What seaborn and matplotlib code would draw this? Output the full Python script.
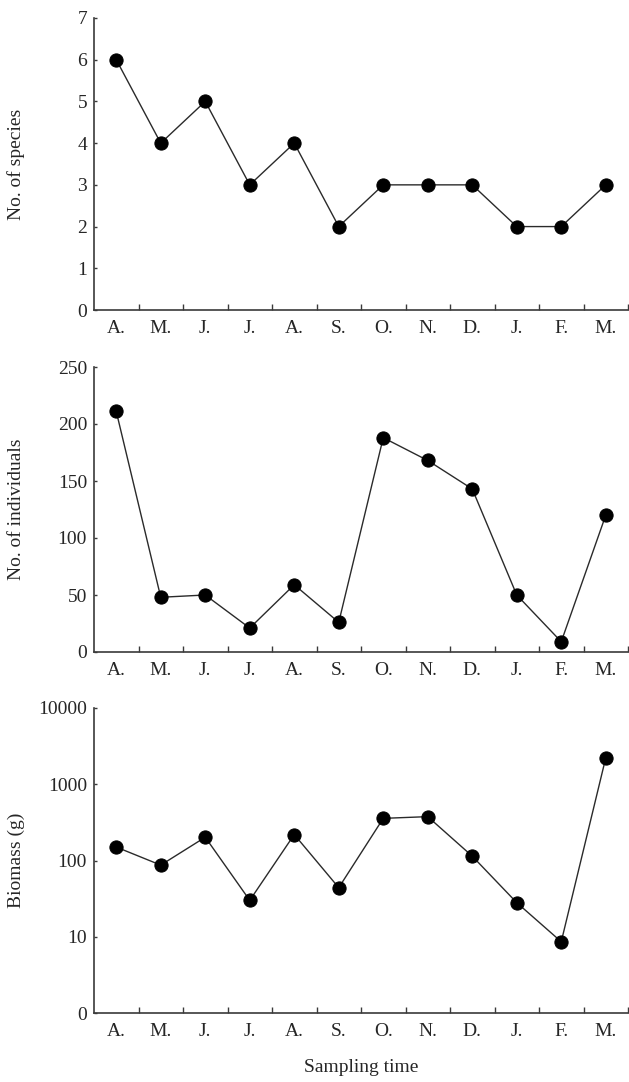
import matplotlib
matplotlib.use("Agg")
import matplotlib.pyplot as plt
import seaborn as sns
import numpy as np
from matplotlib.ticker import FixedLocator, NullFormatter

months = ["A.", "M.", "J.", "J.", "A.", "S.", "O.", "N.", "D.", "J.", "F.", "M."]
species = [6, 4, 5, 3, 4, 2, 3, 3, 3, 2, 2, 3]
individuals = [211, 48, 50, 21, 59, 26, 188, 168, 143, 50, 9, 120]
biomass = [150, 87, 202, 30, 219, 44, 357, 376, 114, 28, 8.6, 2218]

sns.set_theme(style="ticks")
plt.rcParams['font.family'] = ['Liberation Serif', 'DejaVu Serif']

W, H = 629, 1082
fig = plt.figure(figsize=(W / 100, H / 100), dpi=100)

left = 94 / W
width = (628 - 94) / W
panels = [(18, 310), (367, 652), (708, 1013)]
axes = []
for top, bot in panels:
    ax = fig.add_axes([left, 1 - bot / H, width, (bot - top) / H])
    axes.append(ax)

x = np.arange(len(months))
series = [species, individuals, biomass]
ylabels = ["No. of species", "No. of individuals", "Biomass (g)"]

fs = 14
spine_col = "#3a3a3a"
for i, (ax, vals, lab) in enumerate(zip(axes, series, ylabels)):
    sns.lineplot(x=x, y=vals, ax=ax, color="#2a2a2a", linewidth=1.0,
                 marker="o", markersize=9.5, markerfacecolor="black",
                 markeredgecolor="black", sort=False)
    ax.set_xlim(-0.5, 11.5)
    ax.set_xticks(x)
    ax.set_xticklabels(months, fontsize=fs)
    ax.xaxis.set_minor_locator(FixedLocator(np.arange(0.5, 12, 1)))
    ax.tick_params(axis="x", which="major", length=0, pad=7)
    ax.tick_params(axis="x", which="minor", direction="in", length=4,
                   width=1.0, color=spine_col)
    ax.tick_params(axis="y", which="major", direction="in", length=2.5,
                   width=1.0, color=spine_col, labelsize=fs, pad=5)
    ax.tick_params(axis="y", which="minor", length=0)
    for s in ["top", "right"]:
        ax.spines[s].set_visible(False)
    for s in ["left", "bottom"]:
        ax.spines[s].set_color(spine_col)
        ax.spines[s].set_linewidth(1.2)
    ax.set_ylabel(lab, fontsize=fs)
    ax.set_xlabel("")

axes[0].set_ylim(0, 7)
axes[0].set_yticks(range(0, 8))
axes[1].set_ylim(0, 250)
axes[1].set_yticks(range(0, 251, 50))
axes[2].set_yscale("log")
axes[2].set_ylim(1, 10000)
axes[2].set_yticks([1, 10, 100, 1000, 10000])
axes[2].set_yticklabels(["0", "10", "100", "1000", "10000"])
axes[2].yaxis.set_minor_formatter(NullFormatter())
axes[2].set_xlabel("Sampling time", fontsize=fs, labelpad=14)

for ax in axes:
    ax.yaxis.set_label_coords(-0.13, 0.5)

fig.savefig("out.png", dpi=100)
